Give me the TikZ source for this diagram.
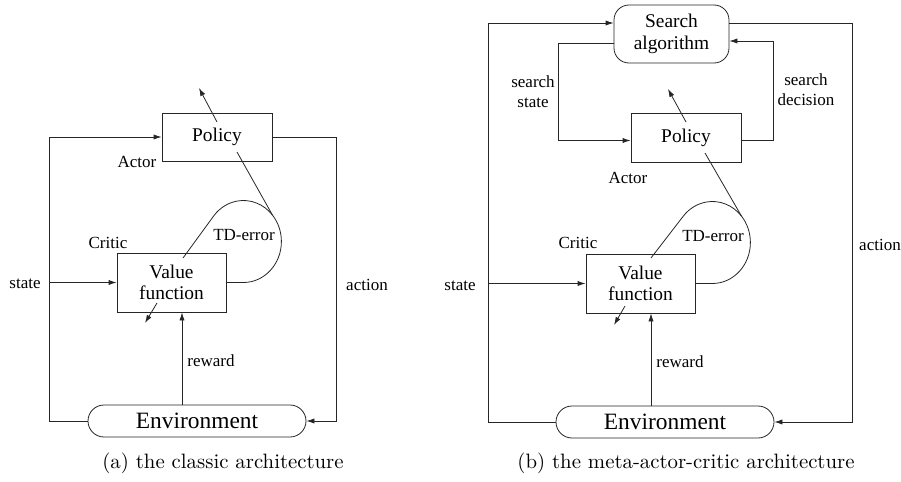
\documentclass[tikz,border=0pt]{standalone}
\usepackage{fontspec}
\newfontfamily\figfont{Liberation Serif}
\usetikzlibrary{arrows.meta}

\begin{document}
\begin{tikzpicture}[x=0.5pt,y=-0.5pt,
    every node/.style={font=\figfont\fontsize{8.5}{10}\selectfont,align=center},
    block/.style={draw=black!85,inner sep=0pt,font=\figfont\fontsize{9.7}{10.4}\selectfont},
    envbox/.style={draw=black!85,rounded corners=8pt,minimum width=109pt,minimum height=16pt,
      inner sep=0pt,font=\figfont\fontsize{11.7}{13}\selectfont},
    caption/.style={font=\normalfont\fontsize{10.4}{12}\selectfont},
    wire/.style={draw=black!85},
    arr/.style={wire,-{Latex[length=4pt,width=2.6pt]}}]
  \useasboundingbox (0,0) rectangle (901,482);

  % (a) classic architecture
  \node[block,minimum width=55pt,minimum height=24pt] (pol-a) at (217,137) {Policy};
  \node[block,minimum width=54.5pt,minimum height=29.5pt] (val-a) at (171.5,282.5) {Value\\function};
  \node[envbox] (env-a) at (197,421) {Environment};
  \coordinate (st-a) at (49,421);
  \coordinate (ac-a) at (336,137);
  \coordinate (rw-a) at ([xshift=5.25pt]val-a.south);
  \coordinate (td-a) at ([xshift=5.75pt,yshift=12.25pt]val-a.center);

  \draw[arr] (env-a.west) -- (st-a) |- (pol-a.west);
  \draw[arr] (st-a |- val-a.west) -- (val-a.west);
  \draw[arr] (pol-a.east) -- (ac-a) |- (env-a.east);
  \draw[arr] (rw-a |- env-a.north) -- (rw-a);
  \draw[arr] ([yshift=7.5pt]pol-a.center) -- ++(-18,-34);
  \draw[arr] ([xshift=-7.25pt,yshift=-10.25pt]val-a.center) -- ++(-12,20);
  \draw[wire] (val-a.east) -- ++(17,0)
    arc[start angle=90,end angle=-40,x radius=38,y radius=41] coordinate (tdr-a)
    arc[start angle=-40,end angle=-140,x radius=38,y radius=41] -- (td-a);
  \draw[wire] ([xshift=10pt,yshift=-7.5pt]pol-a.center) -- (tdr-a);

  \node (lst-a) at (25,284) {state};
  \node (lac-a) at (367,285) {action};
  \node (lrw-a) at (211,361) {reward};
  \node (lact-a) at (137,162) {Actor};
  \node (lcr-a) at (108,243) {Critic};
  \node (ltd-a) at (244,235) {TD-error};
  \node[caption] (cap-a) at (223,463) {(a) the classic architecture};

  % (b) meta-actor-critic architecture
  \node[block,rounded corners=7.5pt,minimum width=57.5pt,minimum height=29pt,
    font=\figfont\fontsize{9.7}{11}\selectfont] (srch-b) at (671.5,34) {Search\\algorithm};
  \node[block,minimum width=55pt,minimum height=24.5pt] (pol-b) at (686,137.5) {Policy};
  \node[block,minimum width=54.5pt,minimum height=29.5pt] (val-b) at (640.5,283.5) {Value\\function};
  \node[envbox] (env-b) at (665,422) {Environment};
  \coordinate (st-b) at (488,422);
  \coordinate (ac-b) at (852,23);
  \coordinate (ss-b) at (558,43);
  \coordinate (sd-b) at (773,41);
  \coordinate (rw-b) at ([xshift=5.25pt]val-b.south);
  \coordinate (td-b) at ([xshift=5.25pt,yshift=12.75pt]val-b.center);

  \draw[arr] (env-b.west) -- (st-b) |- ([yshift=5.5pt]srch-b.west);
  \draw[arr] (st-b |- val-b.west) -- (val-b.west);
  \draw[arr] ([yshift=5.5pt]srch-b.east) -- (ac-b) |- (env-b.east);
  \draw[arr] ([yshift=-4.5pt]srch-b.west) -- (ss-b) |- ([yshift=-1.5pt]pol-b.west);
  \draw[arr] ([yshift=-1.5pt]pol-b.east) -| (sd-b) -- ([yshift=-3.5pt]srch-b.east);
  \draw[arr] (rw-b |- env-b.north) -- (rw-b);
  \draw[arr] ([yshift=7.75pt]pol-b.center) -- ++(-18,-33);
  \draw[arr] ([xshift=-7.75pt,yshift=-11.25pt]val-b.center) -- ++(-11,19);
  \draw[wire] (val-b.east) -- ++(17,0)
    arc[start angle=90,end angle=-40,x radius=38,y radius=41] coordinate (tdr-b)
    arc[start angle=-40,end angle=-140,x radius=38,y radius=41] -- (td-b);
  \draw[wire] ([xshift=9.5pt,yshift=-7.75pt]pol-b.center) -- (tdr-b);

  \node (lst-b) at (460,286) {state};
  \node (lac-b) at (880,245) {action};
  \node (lrw-b) at (680,362) {reward};
  \node (lact-b) at (628,178) {Actor};
  \node (lcr-b) at (578,243) {Critic};
  \node (ltd-b) at (713,236) {TD-error};
  \node (lss-b) at (533,92) {search\\state};
  \node (lsd-b) at (806,90) {search\\decision};
  \node[caption] (cap-b) at (686,463) {(b) the meta-actor-critic architecture};
\end{tikzpicture}
\end{document}
